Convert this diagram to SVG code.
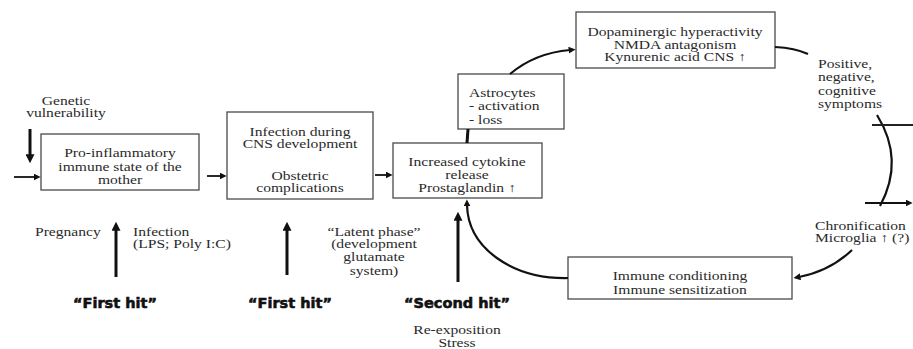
<svg xmlns="http://www.w3.org/2000/svg" width="913" height="349" viewBox="0 0 913 349">
  <style>
    .box { fill: #ffffff; stroke: #4a4a4a; stroke-width: 1.3; }
    .t { font-family: "Liberation Serif", "Times New Roman", serif; font-size: 12px; fill: #2a2a2a; text-anchor: middle; }
    .tl { font-family: "Liberation Serif", "Times New Roman", serif; font-size: 12px; fill: #2a2a2a; text-anchor: start; }
    .hit { font-family: "DejaVu Sans", "Liberation Sans", sans-serif; font-size: 14.5px; font-weight: 900; fill: #111; stroke: #111; stroke-width: 0.6; text-anchor: middle; }
    .thick { stroke: #111; stroke-width: 3; fill: none; }
    .thin { stroke: #111; stroke-width: 1.8; fill: none; }
    .curve { stroke: #111; stroke-width: 2.2; fill: none; }
  </style>
  <defs>
    <marker id="bigHead" viewBox="0 0 10 10" refX="2" refY="5" markerWidth="9" markerHeight="9" markerUnits="userSpaceOnUse" orient="auto">
      <path d="M0,0 L10,5 L0,10 z" fill="#111"/>
    </marker>
    <marker id="smallHead" viewBox="0 0 10 10" refX="2" refY="5" markerWidth="7" markerHeight="7" markerUnits="userSpaceOnUse" orient="auto">
      <path d="M0,0 L10,5 L0,10 z" fill="#111"/>
    </marker>
  </defs>

  <rect width="913" height="349" fill="#ffffff"/>

  <!-- nodes (serif labels are widened with a horizontal scale) -->
  <g id="genetic">
    <text class="t" transform="translate(66 105) scale(1.3 1)">Genetic</text>
    <text class="t" transform="translate(66 117) scale(1.3 1)">vulnerability</text>
  </g>

  <g id="mother">
    <rect class="box" x="41" y="134" width="158" height="56"/>
    <text class="t" transform="translate(120 157) scale(1.3 1)">Pro-inflammatory</text>
    <text class="t" transform="translate(120 171) scale(1.3 1)">immune state of the</text>
    <text class="t" transform="translate(120 184) scale(1.3 1)">mother</text>
  </g>

  <g id="cns-infection">
    <rect class="box" x="227" y="112" width="146" height="87"/>
    <text class="t" transform="translate(300 136) scale(1.3 1)">Infection during</text>
    <text class="t" transform="translate(300 148) scale(1.3 1)">CNS development</text>
    <text class="t" transform="translate(300 180) scale(1.3 1)">Obstetric</text>
    <text class="t" transform="translate(300 192) scale(1.3 1)">complications</text>
  </g>

  <g id="cytokine">
    <rect class="box" x="393" y="143" width="149" height="55"/>
    <text class="t" transform="translate(467 166) scale(1.3 1)">Increased  cytokine</text>
    <text class="t" transform="translate(467 179) scale(1.3 1)">release</text>
    <text class="t" transform="translate(467 192) scale(1.3 1)">Prostaglandin ↑</text>
  </g>

  <g id="astrocytes">
    <rect class="box" x="458" y="74" width="106" height="55"/>
    <text class="tl" transform="translate(469 97) scale(1.3 1)">Astrocytes</text>
    <text class="tl" transform="translate(469 110) scale(1.3 1)">- activation</text>
    <text class="tl" transform="translate(469 124) scale(1.3 1)">- loss</text>
  </g>

  <g id="dopaminergic">
    <rect class="box" x="576" y="12" width="199" height="56"/>
    <text class="t" transform="translate(675 36) scale(1.3 1)">Dopaminergic hyperactivity</text>
    <text class="t" transform="translate(675 49) scale(1.3 1)">NMDA antagonism</text>
    <text class="t" transform="translate(675 61) scale(1.3 1)">Kynurenic acid CNS ↑</text>
  </g>

  <g id="symptoms">
    <text class="tl" transform="translate(818 68) scale(1.3 1)">Positive,</text>
    <text class="tl" transform="translate(818 81) scale(1.3 1)">negative,</text>
    <text class="tl" transform="translate(818 95) scale(1.3 1)">cognitive</text>
    <text class="tl" transform="translate(818 108) scale(1.3 1)">symptoms</text>
  </g>

  <g id="chronification">
    <text class="tl" transform="translate(815 230) scale(1.3 1)">Chronification</text>
    <text class="tl" transform="translate(815 242) scale(1.3 1)">Microglia ↑ (?)</text>
  </g>

  <g id="immune-conditioning">
    <rect class="box" x="568" y="257" width="224" height="42"/>
    <text class="t" transform="translate(680 280) scale(1.3 1)">Immune conditioning</text>
    <text class="t" transform="translate(680 294) scale(1.3 1)">Immune sensitization</text>
  </g>

  <g id="first-hit-1">
    <text class="tl" transform="translate(35 236) scale(1.3 1)">Pregnancy</text>
    <text class="tl" transform="translate(133 236) scale(1.3 1)">Infection</text>
    <text class="tl" transform="translate(133 248) scale(1.3 1)">(LPS; Poly I:C)</text>
    <text class="hit" x="115" y="308">“First hit”</text>
  </g>

  <g id="first-hit-2">
    <text class="hit" x="290" y="308">“First hit”</text>
  </g>

  <g id="latent-phase">
    <text class="t" transform="translate(374 236) scale(1.3 1)">“Latent phase”</text>
    <text class="t" transform="translate(374 248) scale(1.3 1)">(development</text>
    <text class="t" transform="translate(374 261) scale(1.3 1)">glutamate</text>
    <text class="t" transform="translate(374 275) scale(1.3 1)">system)</text>
  </g>

  <g id="second-hit">
    <text class="hit" x="457" y="308">“Second hit”</text>
    <text class="t" transform="translate(457 334) scale(1.3 1)">Re-exposition</text>
    <text class="t" transform="translate(457 347) scale(1.3 1)">Stress</text>
  </g>

  <!-- connectors -->
  <g id="connectors">
    <!-- genetic vulnerability into the mother box -->
    <line class="thick" x1="30" y1="129" x2="30" y2="156" marker-end="url(#bigHead)"/>
    <line class="thin" x1="14" y1="177" x2="35" y2="177" marker-end="url(#smallHead)"/>
    <!-- main chain -->
    <line class="thin" x1="207" y1="176" x2="221" y2="176" marker-end="url(#smallHead)"/>
    <line class="thin" x1="375" y1="175" x2="387" y2="175" marker-end="url(#smallHead)"/>
    <!-- cytokine box to astrocytes -->
    <line class="thick" x1="467" y1="143" x2="468" y2="129"/>
    <!-- astrocytes to dopaminergic box -->
    <path class="curve" d="M510,74 Q535,53 570,50" marker-end="url(#smallHead)"/>
    <!-- dopaminergic box to symptoms -->
    <path class="curve" d="M775,47 Q795,48 808,54"/>
    <!-- symptom arc with threshold lines -->
    <path class="curve" d="M877,115 Q905,160 880,206"/>
    <line x1="872" y1="125" x2="913" y2="125" stroke="#222" stroke-width="2.2"/>
    <line class="thin" x1="865" y1="203" x2="907" y2="203" marker-end="url(#smallHead)"/>
    <!-- chronification to immune conditioning -->
    <path class="curve" d="M852,250 Q830,271 799,277" marker-end="url(#smallHead)"/>
    <!-- immune conditioning back to cytokine release -->
    <path class="curve" d="M568,278 C512,279 468,248 467,205" marker-end="url(#smallHead)"/>
    <!-- hits -->
    <line class="thick" x1="116" y1="277" x2="116" y2="229" marker-end="url(#bigHead)"/>
    <line class="thick" x1="287" y1="275" x2="287" y2="229" marker-end="url(#bigHead)"/>
    <line class="thick" x1="458" y1="282" x2="458" y2="219" marker-end="url(#bigHead)"/>
  </g>
</svg>
